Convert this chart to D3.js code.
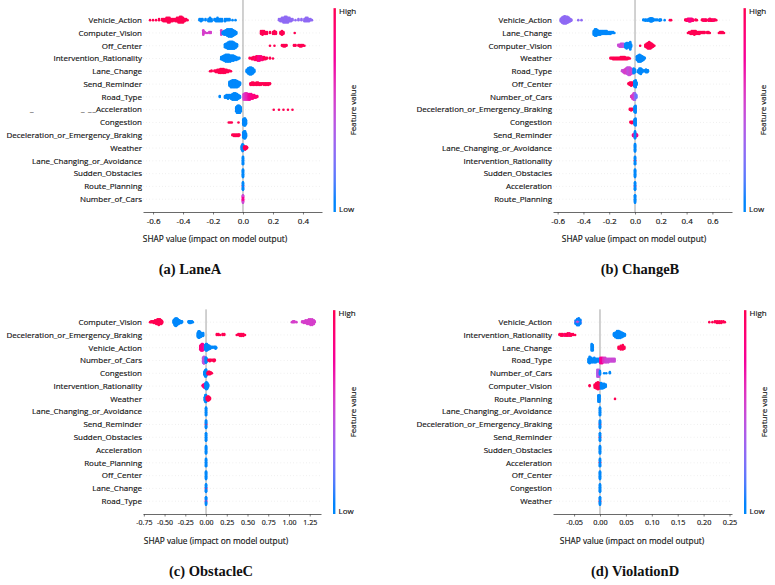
<!DOCTYPE html>
<html>
<head>
<meta charset="utf-8">
<script src="https://cdn.jsdelivr.net/npm/d3@7"></script>
<style>
  body { margin: 0; background: #fff; }
  svg { display: block; }
  .txt { stroke: currentColor; stroke-width: 0.15; }
</style>
</head>
<body>
<svg id="chart" width="775" height="585"></svg>
<script>
// ---- data: every row is a list of [shap value, number of samples, feature value 0..1]

const laneA_features = ["Vehicle_Action", "Computer_Vision", "Off_Center", "Intervention_Rationality",
  "Lane_Change", "Send_Reminder", "Road_Type", "_Acceleration", "Congestion",
  "Deceleration_or_Emergency_Braking", "Weather", "Lane_Changing_or_Avoidance",
  "Sudden_Obstacles", "Route_Planning", "Number_of_Cars"];
const laneA_points = [
  [[-0.62,1,1],[-0.60,1,1],[-0.58,1,1],[-0.56,2,1],[-0.54,2,1],[-0.53,3,1],[-0.52,3,1],[-0.51,4,1],[-0.50,5,1],[-0.49,5,1],[-0.48,3,1],[-0.47,3,1],[-0.46,2,1],[-0.45,3,1],[-0.44,4,1],[-0.43,5,1],[-0.42,6,1],[-0.41,6,1],[-0.40,5,1],[-0.39,3,1],[-0.38,2,1],[-0.37,1,1],
   [-0.29,2,0],[-0.28,3,0],[-0.27,2,0],[-0.25,2,0],[-0.23,3,0],[-0.22,4,0],[-0.21,3,0],[-0.19,2,0],[-0.18,3,0],[-0.17,4,0],[-0.16,3,0],[-0.15,3,0],[-0.14,3,0],[-0.12,3,0],[-0.11,2,0],[-0.10,2,0],[-0.09,2,0],[-0.07,1,0],[-0.05,1,0],
   [0.24,2,0.3],[0.25,3,0.3],[0.26,4,0.3],[0.27,5,0.3],[0.28,6,0.3],[0.29,6,0.3],[0.30,5,0.3],[0.31,4,0.3],[0.32,3,0.3],[0.33,2,0.3],[0.35,1,0.3],[0.37,2,0.3],[0.39,2,0.3],[0.41,3,0.3],[0.42,4,0.3],[0.43,4,0.3],[0.44,3,0.3],[0.45,2,0.3],[0.46,1,0.3]],
  [[-0.265,6,0.55],[-0.255,2,0.55],[-0.24,1,0.55],[-0.225,2,0.55],[-0.215,2,0.55],[-0.145,6,0.55],
   [-0.135,3,0],[-0.125,5,0],[-0.115,6,0],[-0.105,8,0],[-0.095,9,0],[-0.085,9,0],[-0.075,9,0],[-0.065,7,0],[-0.055,5,0],[-0.045,3,0],
   [0.12,4,1],[0.13,5,1],[0.14,4,1],[0.15,3,1],[0.16,3,1],[0.18,2,1],[0.20,3,1],[0.21,4,1],[0.22,3,1],[0.25,3,1],[0.26,5,1],[0.27,3,1],[0.345,1,1]],
  [[-0.12,5,0],[-0.11,7,0],[-0.10,9,0],[-0.09,10,0],[-0.08,10,0],[-0.07,10,0],[-0.06,9,0],[-0.05,7,0],[-0.04,4,0],
   [0.18,1,1],[0.21,1,1],[0.26,2,1],[0.27,3,1],[0.28,3,1],[0.29,2,1],[0.34,2,1],[0.35,2,1],[0.37,2,1],[0.38,3,1],[0.39,3,1],[0.40,2,1],[0.41,1,1]],
  [[-0.145,4,0],[-0.135,6,0],[-0.125,8,0],[-0.115,10,0],[-0.105,10,0],[-0.095,10,0],[-0.085,9,0],[-0.075,8,0],[-0.065,8,0],[-0.055,6,0],[-0.045,5,0],[-0.035,3,0],[-0.025,2,0],
   [0.045,2,1],[0.06,3,1],[0.07,4,1],[0.08,5,0.9],[0.09,6,1],[0.10,7,0.85],[0.11,7,0.8],[0.12,6,0.9],[0.13,5,0.85],[0.14,4,1],[0.15,3,1],[0.16,2,1],[0.18,2,1],[0.20,1,1]],
  [[-0.22,1,1],[-0.21,2,1],[-0.19,2,1],[-0.18,3,1],[-0.17,4,1],[-0.16,5,1],[-0.15,6,1],[-0.14,6,1],[-0.13,6,1],[-0.12,5,1],[-0.11,4,1],[-0.10,3,1],[-0.09,2,1],[-0.08,1,1],
   [0.025,4,0],[0.035,8,0],[0.045,10,0],[0.055,10,0],[0.065,8,0],[0.075,4,0]],
  [[-0.09,6,0],[-0.08,9,0],[-0.07,10,0],[-0.06,10,0],[-0.05,10,0],[-0.04,9,0],[-0.03,7,0],[-0.02,4,0],
   [0.05,3,1],[0.06,4,1],[0.07,4,1],[0.08,3,1],[0.09,4,1],[0.10,4,1],[0.11,3,1],[0.12,3,1],[0.13,2,1],[0.14,3,1],[0.15,3,1],[0.16,3,1],[0.17,3,1],[0.18,2,1]],
  [[-0.155,2,0],[-0.12,3,0],[-0.11,4,0],[-0.10,5,0],[-0.09,4,0],[-0.08,5,0],[-0.07,7,0],[-0.06,8,0],[-0.05,8,0],[-0.04,7,0],[-0.03,5,0],[-0.02,3,0],
   [0.005,7,0.55],[0.015,8,0.6],[0.025,8,0.65],[0.035,7,0.7],[0.045,7,0.75],[0.055,6,0.8],[0.065,5,0.85],[0.075,4,0.85],[0.085,3,0.9],[0.095,2,0.9]],
  [[-0.045,6,0],[-0.04,9,0],[-0.035,10,0],[-0.03,10,0],[-0.025,10,0],[-0.02,9,0],[-0.015,6,0],
   [0.205,1,1],[0.24,1,1],[0.27,1,1],[0.30,1,1],[0.33,1,1]],
  [[-0.095,1,1],[-0.085,1,1],[-0.075,1,1],[-0.03,1,1],[0.002,8,0],[0.008,10,0],[0.014,10,0],[0.02,6,0]],
  [[-0.07,2,1],[-0.06,3,1],[-0.05,3,1],[-0.04,3,1],[-0.03,3,1],[-0.025,2,1],[0.002,8,0],[0.008,10,0],[0.014,10,0],[0.02,5,0]],
  [[-0.008,6,0],[-0.003,10,0],[0.002,8,0],[0.008,4,1],[0.015,5,1],[0.022,4,1],[0.027,2,1]],
  [[0,14,0]],
  [[0,14,0]],
  [[0,2,0.8],[0,12,0]],
  [[0,10,0.75],[0,4,0.5]]
];
const laneA_ticks = [-0.6, -0.4, -0.2, 0, 0.2, 0.4];
const laneA_tickLabels = ["-0.6", "-0.4", "-0.2", "0.0", "0.2", "0.4"];

const changeB_features = ["Vehicle_Action", "Lane_Change", "Computer_Vision", "Weather", "Road_Type",
  "Off_Center", "Number_of_Cars", "Deceleration_or_Emergency_Braking", "Congestion",
  "Send_Reminder", "Lane_Changing_or_Avoidance", "Intervention_Rationality",
  "Sudden_Obstacles", "Acceleration", "Route_Planning"];
const changeB_points = [
  [[-0.575,5,0.3],[-0.565,9,0.3],[-0.555,11,0.3],[-0.545,12,0.3],[-0.535,11,0.3],[-0.525,10,0.3],[-0.515,8,0.3],[-0.505,5,0.3],[-0.495,3,0.3],[-0.44,1,0.3],[-0.415,1,0.3],
   [0.065,2,0],[0.08,3,0],[0.095,3,0],[0.11,4,0],[0.12,6,0],[0.13,6,0],[0.14,4,0],[0.155,2,0],[0.17,2,0],[0.19,3,0],[0.20,2,0],[0.23,1,0],
   [0.27,1,1],[0.28,1,1],[0.39,2,1],[0.40,3,1],[0.41,4,0.9],[0.42,5,0.85],[0.43,5,0.8],[0.44,4,0.85],[0.45,3,0.9],[0.47,2,1],[0.48,1,1],
   [0.52,2,1],[0.53,3,1],[0.54,3,0.9],[0.55,3,1],[0.57,3,1],[0.58,4,0.9],[0.59,3,1],[0.60,3,1],[0.61,3,0.9],[0.62,2,1],[0.63,1,1]],
  [[-0.32,5,0],[-0.31,8,0],[-0.30,8,0],[-0.29,6,0],[-0.28,5,0],[-0.27,5,0],[-0.26,4,0],[-0.25,4,0],[-0.24,4,0],[-0.23,4,0],[-0.22,4,0],[-0.21,3,0],[-0.20,3,0],[-0.19,3,0],[-0.18,2,0],[-0.17,2,0],[-0.16,1,0],
   [0.41,1,1],[0.42,2,1],[0.43,3,1],[0.44,4,1],[0.45,4,1],[0.46,5,1],[0.47,4,1],[0.48,3,1],[0.49,3,1],[0.50,3,1],[0.51,2,1],[0.52,2,1],[0.53,2,1],[0.54,2,1],[0.56,2,1],[0.57,2,1],[0.58,1,1],
   [0.65,1,1],[0.66,2,1],[0.67,2,1],[0.68,2,1],[0.69,1,1]],
  [[-0.13,2,0.5],[-0.12,3,0.5],[-0.11,4,0.5],[-0.10,4,0.5],[-0.09,4,0.45],[-0.08,3,0.4],
   [-0.075,5,0],[-0.065,7,0],[-0.055,6,0],[-0.045,5,0],[-0.037,9,0],[-0.03,3,0],
   [0.04,1,1],[0.08,3,1],[0.09,5,1],[0.10,7,1],[0.11,8,1],[0.12,7,1],[0.13,5,1],[0.14,3,1],[0.15,1,1]],
  [[-0.19,2,1],[-0.18,2,1],[-0.17,3,1],[-0.16,3,1],[-0.15,3,1],[-0.14,3,1],[-0.13,3,1],[-0.12,3,1],[-0.11,4,1],[-0.10,4,1],[-0.09,4,1],[-0.08,4,1],[-0.07,3,1],[-0.06,3,1],[-0.05,2,1],[-0.04,1,1],
   [0.015,6,0],[0.025,9,0],[0.035,10,0],[0.045,9,0],[0.055,7,0],[0.065,5,0],[0.075,2,0]],
  [[-0.10,2,0.5],[-0.09,3,0.5],[-0.08,5,0.55],[-0.07,6,0.55],[-0.06,8,0.5],[-0.05,9,0.45],[-0.04,9,0.5],[-0.03,7,0.55],[-0.02,5,0.5],
   [-0.01,6,0],[0.0,4,0],[0.025,3,0],[0.035,6,0],[0.045,7,0],[0.055,4,0],[0.07,2,0],[0.085,4,0],[0.095,3,0],[0.10,2,0]],
  [[-0.05,2,1],[-0.04,4,1],[-0.03,5,1],[-0.02,4,1],[-0.005,8,0],[0.005,10,0],[0.012,4,0]],
  [[-0.03,2,0.6],[-0.02,5,0.6],[-0.01,8,0.55],[0.0,8,0.3],[0.01,4,0.2]],
  [[-0.04,2,1],[-0.03,3,1],[-0.02,2,1],[-0.003,8,0],[0.004,10,0]],
  [[-0.035,2,1],[-0.025,3,1],[-0.015,2,1],[-0.003,8,0],[0.004,10,0]],
  [[-0.015,3,0.8],[-0.005,5,0.7],[0.005,5,0.7],[0.015,3,0.8],[0.0,10,0]],
  [[0,14,0]],
  [[0,2,1],[0,12,0]],
  [[0,14,0]],
  [[0,2,0.8],[0,12,0]],
  [[0,14,0]]
];
const changeB_ticks = [-0.6, -0.4, -0.2, 0, 0.2, 0.4, 0.6];
const changeB_tickLabels = ["-0.6", "-0.4", "-0.2", "0.0", "0.2", "0.4", "0.6"];

const obstacleC_features = ["Computer_Vision", "Deceleration_or_Emergency_Braking", "Vehicle_Action",
  "Number_of_Cars", "Congestion", "Intervention_Rationality", "Weather",
  "Lane_Changing_or_Avoidance", "Send_Reminder", "Sudden_Obstacles", "Acceleration",
  "Route_Planning", "Off_Center", "Lane_Change", "Road_Type"];
const obstacleC_points = [
  [[-0.675,1,1],[-0.66,2,1],[-0.645,2,1],[-0.63,3,1],[-0.615,4,1],[-0.60,5,1],[-0.585,6,1],[-0.57,7,1],[-0.555,6,1],[-0.54,5,1],[-0.53,3,1],
   [-0.39,4,0],[-0.38,7,0],[-0.37,9,0],[-0.36,9,0],[-0.35,8,0],[-0.34,6,0],[-0.33,5,0],[-0.32,4,0],[-0.31,3,0],[-0.30,3,0],[-0.29,2,0],[-0.21,2,0],[-0.20,3,0],[-0.185,3,0],[-0.17,2,0],[-0.16,1,0],
   [1.035,1,0.55],[1.05,2,0.55],[1.065,2,0.55],[1.09,1,0.55],[1.16,2,0.55],[1.18,3,0.55],[1.20,4,0.55],[1.22,5,0.55],[1.24,6,0.55],[1.26,7,0.55],[1.28,7,0.55],[1.30,5,0.55],[1.31,2,0.55]],
  [[-0.10,5,0],[-0.09,8,0],[-0.08,8,0],[-0.07,6,0],[-0.06,5,0],[-0.05,3,0],[-0.035,4,0],
   [0.13,2,1],[0.15,2,1],[0.17,1,1],[0.20,2,1],[0.22,2,1],[0.37,1,1],[0.39,2,1],[0.41,3,1],[0.43,3,1],[0.45,3,1],[0.47,1,1]],
  [[-0.07,5,0.85],[-0.06,7,0.85],[-0.05,8,0.8],[-0.04,8,0.8],[-0.03,6,0.75],[-0.02,4,0.7],
   [-0.01,6,0],[0.0,8,0],[0.01,8,0],[0.02,6,0],[0.03,5,0],[0.04,4,0],[0.05,3,0],[0.06,2,0],[0.08,2,0],[0.10,2,0],[0.115,3,0],[0.125,1,0]],
  [[-0.035,8,0.45],[-0.025,10,0.45],[-0.015,8,0.45],[-0.002,8,0],[0.005,6,0],[0.03,2,1],[0.045,3,1],[0.06,2,1],[0.08,2,1],[0.095,3,1],[0.105,2,1]],
  [[-0.02,5,0],[-0.01,9,0],[0.0,10,0],[0.008,5,0],[0.02,3,1],[0.03,4,1],[0.04,4,1],[0.05,3,1],[0.06,2,1],[0.07,1,1]],
  [[-0.04,2,0.9],[-0.03,4,0.9],[-0.02,5,0.85],[-0.01,4,0.85],[-0.005,8,0],[0.005,10,0],[0.015,8,0],[0.025,4,0]],
  [[-0.015,5,0],[-0.007,10,0],[0.0,10,0],[0.01,4,1],[0.02,6,1],[0.03,6,1],[0.04,4,1],[0.048,2,1]],
  [[0,14,0]],
  [[0,3,0.9],[0,11,0]],
  [[0,14,0]],
  [[0,14,0]],
  [[0,14,0]],
  [[0,14,0]],
  [[0,3,0.85],[0,11,0]],
  [[0,4,0.6],[0,10,0]]
];
const obstacleC_ticks = [-0.75, -0.5, -0.25, 0, 0.25, 0.5, 0.75, 1, 1.25];
const obstacleC_tickLabels = ["-0.75", "-0.50", "-0.25", "0.00", "0.25", "0.50", "0.75", "1.00", "1.25"];

const violationD_features = ["Vehicle_Action", "Intervention_Rationality", "Lane_Change", "Road_Type",
  "Number_of_Cars", "Computer_Vision", "Route_Planning", "Lane_Changing_or_Avoidance",
  "Deceleration_or_Emergency_Braking", "Send_Reminder", "Sudden_Obstacles", "Acceleration",
  "Off_Center", "Congestion", "Weather"];
const violationD_points = [
  [[-0.047,2,0.35],[-0.047,3,0.05],[-0.044,4,0.45],[-0.044,5,0.05],[-0.041,4,0.5],[-0.041,6,0.08],[-0.038,2,0.3],[-0.038,4,0.05],
   [0.211,1,1],[0.217,1,1],[0.222,2,1],[0.226,3,1],[0.23,3,1],[0.234,3,1],[0.238,2,1],[0.241,1,1]],
  [[-0.078,2,1],[-0.075,3,1],[-0.072,3,1],[-0.068,3,0.9],[-0.065,3,1],[-0.062,4,1],[-0.059,4,0.9],[-0.056,3,1],[-0.052,2,1],[-0.048,1,1],
   [0.027,4,0],[0.030,7,0],[0.033,10,0],[0.036,10,0],[0.039,9,0],[0.042,7,0],[0.045,5,0],[0.048,3,0]],
  [[-0.016,8,0],[-0.014,7,0],[0.036,3,1],[0.040,5,1],[0.044,6,1],[0.047,3,1]],
  [[-0.022,5,0],[-0.020,8,0],[-0.017,6,0],[-0.014,5,0],[-0.011,6,0],[-0.008,5,0],[-0.005,4,0],[-0.002,4,0],
   [0.001,7,0.8],[0.004,7,0.75],[0.007,6,0.6],[0.010,6,0.55],[0.013,5,0.5],[0.016,5,0.5],[0.019,4,0.5],[0.022,4,0.5],[0.025,4,0.5],[0.028,4,0.5]],
  [[-0.005,7,0.4],[-0.002,7,0.45],[0.0,4,0],[0.008,1,0],[0.012,1,0],[0.019,2,0]],
  [[-0.02,2,1],[-0.01,5,1],[-0.007,8,1],[-0.004,10,1],[-0.001,8,1],[0.002,8,0],[0.005,7,0],[0.008,6,0],[0.011,4,0]],
  [[-0.003,8,0],[-0.001,8,0],[0.029,1,1]],
  [[0,14,0]],
  [[0,2,1],[0,12,0]],
  [[0,2,1],[0,12,0]],
  [[0,14,0]],
  [[0,2,1],[0,12,0]],
  [[0,14,0]],
  [[0,14,0]],
  [[0,2,1],[0,12,0]]
];
const violationD_ticks = [-0.05, 0, 0.05, 0.1, 0.15, 0.2, 0.25];
const violationD_tickLabels = ["-0.05", "0.00", "0.05", "0.10", "0.15", "0.20", "0.25"];

// ---- layout of the four panels
const panels = [
  { features: laneA_features, points: laneA_points, ticks: laneA_ticks, tickLabels: laneA_tickLabels,
    domain: [-0.667, 0.527], x0: 143, x1: 322, axisY: 212, lineTop: 0, cbX: 333.5, tickFont: 8,
    titleX: 215, titleY: 239, caption: "(a) LaneA", capX: 190, capY: 269 },
  { features: changeB_features, points: changeB_points, ticks: changeB_ticks, tickLabels: changeB_tickLabels,
    domain: [-0.636, 0.752], x0: 553, x1: 732, axisY: 212, lineTop: 0, cbX: 743.5, tickFont: 8,
    titleX: 634, titleY: 239, caption: "(b) ChangeB", capX: 640, capY: 269 },
  { features: obstacleC_features, points: obstacleC_points, ticks: obstacleC_ticks, tickLabels: obstacleC_tickLabels,
    domain: [-0.76, 1.386], x0: 143, x1: 321, axisY: 514, lineTop: null, cbX: 333, tickFont: 7,
    titleX: 216, titleY: 541, caption: "(c) ObstacleC", capX: 211, capY: 571 },
  { features: violationD_features, points: violationD_points, ticks: violationD_ticks, tickLabels: violationD_tickLabels,
    domain: [-0.0907, 0.2548], x0: 553, x1: 732, axisY: 514, lineTop: null, cbX: 744, tickFont: 7.3,
    titleX: 632, titleY: 541, caption: "(d) ViolationD", capX: 635, capY: 571 }
];

const rowStep = 12.79;
const font = "'Open Sans', 'Noto Sans', sans-serif";
const ink = "#111";
const svg = d3.select("#chart");

// shap red_blue colormap (LCh interpolation between its blue and red)
const shapColor = d3.interpolateHcl(d3.hcl(266.9, 70, 54), d3.hcl(380.3, 90, 54));

// gradient for the colour bars
const grad = svg.append("defs").append("linearGradient")
  .attr("id", "cbgrad").attr("x1", 0).attr("y1", 1).attr("x2", 0).attr("y2", 0);
d3.range(0, 1.0001, 0.05).forEach(t => {
  grad.append("stop").attr("offset", t).attr("stop-color", shapColor(t));
});

// beeswarm: samples with the same value are piled around the row centre
function swarm(row) {
  const stacks = [];
  row.forEach(([v, n, fv]) => {
    let s = stacks.find(d => d.v === v);
    if (!s) { s = { v, items: [] }; stacks.push(s); }
    for (let k = 0; k < n; k++) s.items.push(fv);
  });
  const maxUp = d3.max(stacks, s => Math.floor(s.items.length / 2));
  const scale = 0.9 * 0.4 / (maxUp + 1);
  const out = [];
  stacks.forEach(s => {
    s.items.forEach((fv, layer) => {
      const ys = Math.ceil(layer / 2) * ((layer % 2) * 2 - 1);
      out.push({ v: s.v, fv, dy: ys * scale });
    });
  });
  return out;
}

function drawPanel(p) {
  const nRows = p.features.length;
  const x = d3.scaleLinear().domain(p.domain).range([p.x0, p.x1]);
  const y = d3.scaleLinear().domain([-1, nRows]).range([p.axisY, p.axisY - (nRows + 1) * rowStep]);
  const g = svg.append("g");
  const top = y(nRows);

  // dotted row guides
  g.selectAll(".grid").data(p.features).join("line")
    .attr("x1", p.x0).attr("x2", p.x1)
    .attr("y1", (d, i) => y(nRows - 1 - i)).attr("y2", (d, i) => y(nRows - 1 - i))
    .attr("stroke", "#cccccc").attr("stroke-width", 0.5).attr("stroke-dasharray", "0.6 2.6");

  // zero line
  g.append("line")
    .attr("x1", x(0)).attr("x2", x(0))
    .attr("y1", p.lineTop === null ? top : p.lineTop).attr("y2", p.axisY)
    .attr("stroke", "#999999").attr("stroke-width", 0.9);

  // dots
  p.points.forEach((row, i) => {
    const pos = nRows - 1 - i;
    g.append("g").selectAll("circle").data(swarm(row)).join("circle")
      .attr("cx", d => x(d.v))
      .attr("cy", d => y(pos + d.dy))
      .attr("r", 1.3)
      .attr("fill", d => shapColor(d.fv));
  });

  // feature names
  g.selectAll(".lab").data(p.features).join("text")
    .attr("class", "txt")
    .attr("x", p.x0 - 1)
    .attr("y", (d, i) => y(nRows - 1 - i))
    .attr("dy", "0.35em")
    .attr("text-anchor", "end")
    .attr("font-family", font).attr("font-size", 8).attr("fill", ink).style("color", ink)
    .text(d => d);

  // x axis
  const ax = g.append("g")
    .attr("transform", `translate(0,${p.axisY})`)
    .call(d3.axisBottom(x).tickValues(p.ticks).tickFormat((d, i) => p.tickLabels[i])
      .tickSize(2.5).tickSizeOuter(0).tickPadding(3.5));
  ax.select(".domain").attr("stroke", "#444").attr("stroke-width", 0.8);
  ax.selectAll(".tick line").attr("stroke", "#444").attr("stroke-width", 0.7);
  ax.selectAll("text").attr("class", "txt").attr("font-family", font).attr("font-size", p.tickFont)
    .attr("fill", ink).style("color", ink);

  g.append("text")
    .attr("class", "txt")
    .attr("x", p.titleX).attr("y", p.titleY).attr("dy", "0.35em")
    .attr("text-anchor", "middle")
    .attr("font-family", font).attr("font-size", 8.3).attr("fill", ink).style("color", ink)
    .text("SHAP value (impact on model output)");

  // colour bar
  const cbTop = top + 0.8;
  g.append("rect")
    .attr("x", p.cbX).attr("y", cbTop)
    .attr("width", 2.4).attr("height", p.axisY - cbTop)
    .attr("fill", "url(#cbgrad)");
  g.append("text").attr("class", "txt").attr("x", p.cbX + 5.5).attr("y", cbTop + 3.5).attr("dy", "0.35em")
    .attr("font-family", font).attr("font-size", 8).attr("fill", ink).style("color", ink).text("High");
  g.append("text").attr("class", "txt").attr("x", p.cbX + 5.5).attr("y", p.axisY - 3).attr("dy", "0.35em")
    .attr("font-family", font).attr("font-size", 8).attr("fill", ink).style("color", ink).text("Low");
  const midY = (cbTop + p.axisY) / 2;
  g.append("text")
    .attr("class", "txt")
    .attr("transform", `translate(${p.cbX + 20},${midY}) rotate(-90)`)
    .attr("dy", "0.35em").attr("text-anchor", "middle")
    .attr("font-family", font).attr("font-size", 8).attr("fill", ink).style("color", ink)
    .text("Feature value");

  // caption
  svg.append("text")
    .attr("x", p.capX).attr("y", p.capY).attr("dy", "0.35em")
    .attr("text-anchor", "middle")
    .attr("font-family", "'Liberation Serif', 'Times New Roman', serif")
    .attr("font-weight", "bold").attr("font-size", 14.5).attr("fill", "#111")
    .text(p.caption);
}

panels.forEach(drawPanel);

// stray underscores left of the Acceleration label in panel (a)
svg.selectAll(".stray").data([30, 81, 88]).join("text")
  .attr("class", "txt")
  .attr("x", d => d).attr("y", 212 - 8 * rowStep).attr("dy", "0.35em")
  .attr("font-family", font).attr("font-size", 8).attr("fill", ink).style("color", ink)
  .text("_");
</script>
</body>
</html>
